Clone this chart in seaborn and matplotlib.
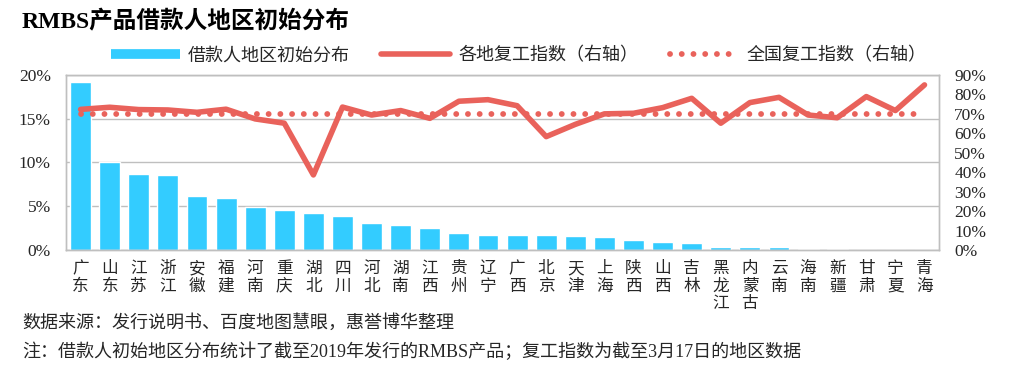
import numpy as np
import pandas as pd
import matplotlib
matplotlib.use('Agg')
import matplotlib.pyplot as plt
from matplotlib.lines import Line2D
from matplotlib.ticker import PercentFormatter, MultipleLocator
import seaborn as sns

regions = ['广东', '山东', '江苏', '浙江', '安徽', '福建', '河南', '重庆', '湖北', '四川',
           '河北', '湖南', '江西', '贵州', '辽宁', '广西', '北京', '天津', '上海', '陕西',
           '山西', '吉林', '黑龙江', '内蒙古', '云南', '海南', '新疆', '甘肃', '宁夏', '青海']
# share of borrowers by region, %
loan_share = [19.2, 10.0, 8.7, 8.6, 6.2, 5.95, 4.95, 4.6, 4.2, 3.9,
              3.1, 2.85, 2.5, 1.95, 1.7, 1.7, 1.7, 1.65, 1.5, 1.1,
              0.9, 0.75, 0.3, 0.3, 0.3, 0.15, 0.1, 0.02, 0.02, 0.02]
# regional work-resumption index, %
resume_index = [72.3, 73.4, 72.2, 72.0, 70.8, 72.4, 67.4, 65.2, 38.6, 73.5,
                69.4, 71.7, 67.7, 76.5, 77.3, 74.2, 58.3, 64.6, 70.0, 70.3,
                73.2, 78.0, 65.2, 75.8, 78.5, 69.4, 68.0, 78.9, 71.7, 84.9]
national_index = 70.0

blue = '#33CCFF'
red = '#E9625B'
grey = '#BFBFBF'
txt = '#262626'

sns.set_theme(style='white')
plt.rcParams['font.family'] = ['Liberation Serif', 'Noto Sans CJK SC']

df = pd.DataFrame({'region': regions, 'share': loan_share, 'resume': resume_index})
df['pos'] = np.arange(len(df))
df['national'] = national_index

fig = plt.figure(figsize=(10.13, 3.73), dpi=100)
ax = fig.add_axes([0.0652, 0.3298, 0.8618, 0.4692])

sns.barplot(data=df, x='region', y='share', color=blue, saturation=1, width=0.72, ax=ax)
ax.set_ylim(0, 20)
ax.yaxis.set_major_locator(MultipleLocator(5))
ax.yaxis.set_major_formatter(PercentFormatter(xmax=100, decimals=0))
ax.yaxis.grid(True, color=grey, lw=1)
ax.set_axisbelow(True)
ax.set_xlabel('')
ax.set_ylabel('')
ax.set_xticks(df['pos'])
ax.set_xticklabels(['\n'.join(r) for r in regions], linespacing=1.12)
ax.tick_params(axis='x', length=0, pad=8, labelsize=12, labelcolor=txt)
ax.tick_params(axis='y', length=0, pad=11, labelsize=12.5, labelcolor=txt)

ax2 = ax.twinx()
sns.lineplot(data=df, x='pos', y='resume', color=red, lw=4, ax=ax2)
sns.lineplot(data=df, x='pos', y='national', color=red, lw=4.2,
             linestyle=(0, (0.01, 2.0)), dash_capstyle='round', ax=ax2)
ax2.set_ylim(0, 90)
ax2.yaxis.set_major_locator(MultipleLocator(10))
ax2.yaxis.set_major_formatter(PercentFormatter(xmax=100, decimals=0))
ax2.set_xlim(-0.5, len(regions) - 0.5)
ax2.set_xlabel('')
ax2.set_ylabel('')
ax2.tick_params(axis='y', length=0, pad=11, labelsize=12.5, labelcolor=txt)
ax2.grid(False)

for a in (ax, ax2):
    for s in a.spines.values():
        s.set_color(grey)
        s.set_linewidth(1)

handles = [
    Line2D([], [], color=blue, lw=7, solid_capstyle='butt'),
    Line2D([], [], color=red, lw=4, solid_capstyle='round'),
    Line2D([], [], color=red, lw=4.2, linestyle=(0, (0.01, 2.0)), dash_capstyle='round'),
]
labels = ['借款人地区初始分布', '各地复工指数（右轴）', '全国复工指数（右轴）']
fig.legend(handles, labels, loc='center', bbox_to_anchor=(0.512, 0.850), ncol=3,
           frameon=False, fontsize=13, handlelength=3.8, handletextpad=0.45,
           columnspacing=1.75, labelcolor=txt)

fig.text(0.0217, 0.941, 'RMBS产品借款人地区初始分布', fontsize=17, fontweight='bold',
         color='black', va='center', ha='left')
fig.text(0.0217, 0.134, '数据来源：发行说明书、百度地图慧眼，惠誉博华整理', fontsize=13,
         color=txt, va='center', ha='left')
fig.text(0.0217, 0.056, '注：借款人初始地区分布统计了截至2019年发行的RMBS产品；复工指数为截至3月17日的地区数据',
         fontsize=13, color=txt, va='center', ha='left')

fig.savefig('out.png', dpi=100, facecolor='white')
